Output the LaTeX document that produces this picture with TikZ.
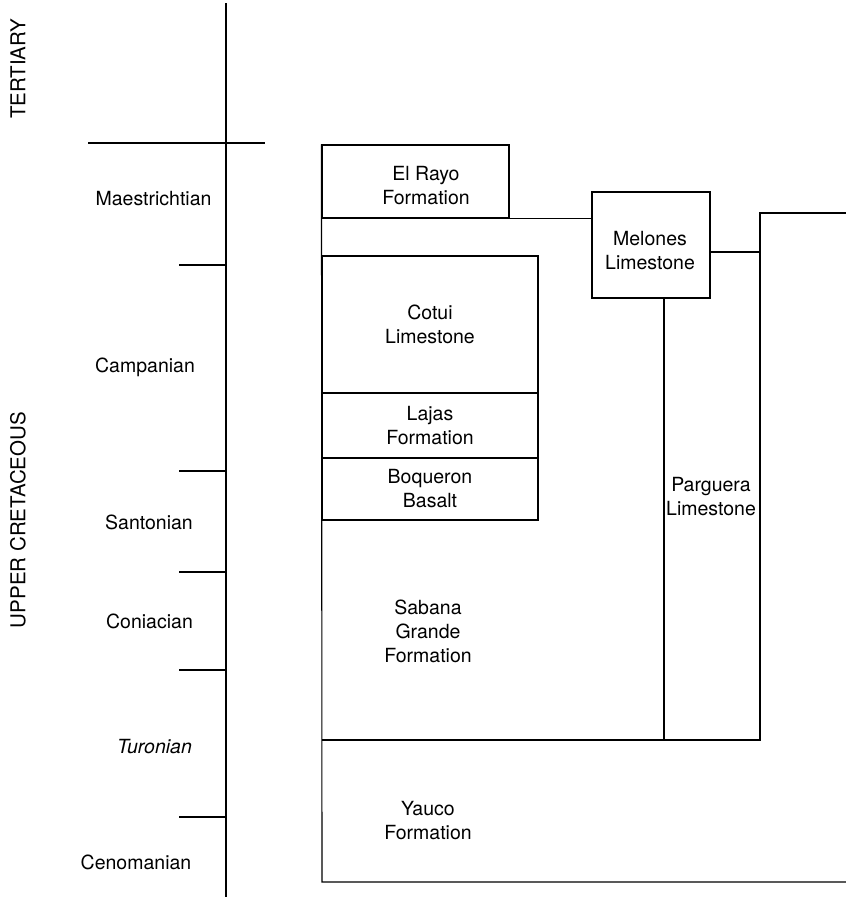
\documentclass[tikz,border=0pt]{standalone}
\usepackage{fontspec}
\setmainfont{TeX Gyre Heros}
\begin{document}
\begin{tikzpicture}[x=1pt,y=-1pt,
  every node/.style={font=\fontsize{19.5}{24}\selectfont, align=center, inner sep=0pt},
  ln/.style={line width=1.1pt, black},
  fbox/.style={draw, line width=1.1pt, inner sep=0pt},
  stage/.style={anchor=center},
  era/.style={rotate=90, anchor=center, font=\fontsize{20.5}{24}\selectfont}]
\useasboundingbox (0,0) rectangle (846,898);
% time scale
\coordinate (tt) at (226,3);
\coordinate (tb) at (226,897);
\draw[ln] (tt) -- (tb);
\coordinate (terl) at (88,143);
\coordinate (terr) at (265,143);
\draw[ln] (terl) -- (terr);
\foreach \y/\n in {265/a,471/b,572/c,670/d,817/e}{
  \coordinate (tk\n) at (179,\y);
  \draw[ln] (tk\n) -- (tk\n -| tt);
}
\node[era] (tert) at (18,69) {TERTIARY};
\node[era] (upcr) at (18,520) {UPPER CRETACEOUS};
\node[stage] (maes) at (153.5,199) {Maestrichtian};
\node[stage] (camp) at (145,367) {Campanian};
\node[stage] (sant) at (149,522) {Santonian};
\node[stage] (coni) at (149.5,621) {Coniacian};
\node[stage] (turo) at (154.5,747) {\itshape Turonian};
\node[stage] (ceno) at (136,862) {Cenomanian};
% formations
\node[fbox, minimum width=187pt, minimum height=73pt] (elrayo) at (415.5,181.5) {};
\node (elrayotxt) at (426,186) {El Rayo\\Formation};
\node[fbox, minimum width=118pt, minimum height=106pt] (melones) at (651,245) {};
\node (melonestxt) at (650,251) {Melones\\Limestone};
\node[fbox, minimum width=216pt, minimum height=137pt] (cotui) at (430,324.5) {Cotui\\Limestone};
\node[fbox, minimum width=216pt, minimum height=65pt] (lajas) at (430,425.5) {Lajas\\Formation};
\node[fbox, minimum width=216pt, minimum height=62pt] (boq) at (430,489) {Boqueron\\Basalt};
\node (sabana) at (428,631) {Sabana\\Grande\\Formation};
\node (yauco) at (428,821) {Yauco\\Formation};
\node (parg) at (711,496.5) {Parguera\\Limestone};
\coordinate (lb) at (322,882);
\coordinate (rb) at (846,882);
\coordinate (sl) at (322,740);
\coordinate (rtop) at (760,213);
\coordinate (rend) at (846,213);
\coordinate (rbot) at (760,740);
\coordinate (mr) at (710,252);
\coordinate (ml) at (760,252);
\coordinate (pb) at (664,740);
\draw[ln] (elrayo.north west) -- (lb) -- (rb);
\draw[ln] (elrayo.south west) -- (elrayo.south west -| melones.west);
\draw[ln] (mr) -- (ml);
\draw[ln] (rend) -- (rtop) -- (rbot) -- (sl);
\draw[ln] (pb |- melones.south) -- (pb);
\end{tikzpicture}
\end{document}
